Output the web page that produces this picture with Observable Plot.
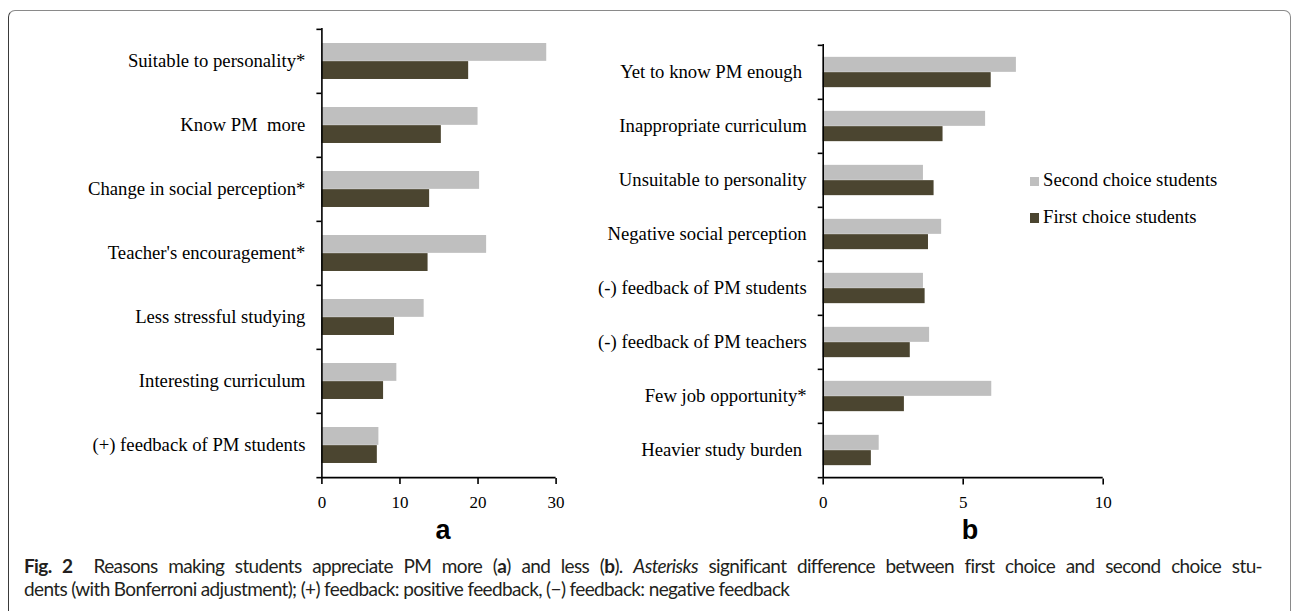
<!DOCTYPE html>
<html>
<head>
<meta charset="utf-8">
<script src="https://cdn.jsdelivr.net/npm/d3@7"></script>
<script src="https://cdn.jsdelivr.net/npm/@observablehq/plot@0.6"></script>
<style>
  html, body { margin: 0; padding: 0; background: #fff; }
  #root { position: relative; width: 1292px; height: 611px; overflow: hidden; background: #fff; }
  .frame { position: absolute; left: 8px; top: 10px; width: 1283px; height: 700px; box-sizing: border-box;
           border: 1.5px solid #8a8a8a; border-left-color: #3a3a3a; border-radius: 7px; }
  .panel { position: absolute; top: 0; }
  .plab { position: absolute; width: 40px; text-align: center; font-family: "Liberation Sans", Arial, sans-serif;
          font-weight: bold; font-size: 27px; line-height: 27px; top: 517px; color: #000; }
  .leg { position: absolute; font-family: "Liberation Serif", "Times New Roman", serif; font-size: 18.7px;
         line-height: 18.7px; color: #000; white-space: nowrap; }
  .sw { position: absolute; width: 9.3px; height: 9.3px; }
  .cap { position: absolute; left: 24px; font-family: Lato, "Open Sans", sans-serif; font-size: 19px; line-height: 23px;
         color: #231f20; white-space: nowrap; }
</style>
</head>
<body>
<div id="root">
  <div class="frame"></div>
  <div id="pa" class="panel" style="left:0px"></div>
  <div id="pb" class="panel" style="left:560px"></div>
  <div class="plab" style="left:423px">a</div>
  <div class="plab" style="left:950px">b</div>
  <div id="legend"></div>
  <div id="cap1" class="cap" style="top:554px"><b>Fig. 2</b>&nbsp; Reasons making students appreciate PM more (<b>a</b>) and less (<b>b</b>). <i>Asterisks</i> significant difference between first choice and second choice stu-</div>
  <div id="cap2" class="cap" style="top:577px">dents (with Bonferroni adjustment); (+) feedback: positive feedback, (−) feedback: negative feedback</div>
</div>
<script>
// ---- Data ----
const reasonsMore = ["Suitable to personality*", "Know PM\u00a0 more", "Change in social perception*", "Teacher's encouragement*", "Less stressful studying", "Interesting curriculum", "(+) feedback of PM students"];
const secondMore = [28.8, 20.0, 20.2, 21.1, 13.1, 9.6, 7.3];
const firstMore  = [18.8, 15.3, 13.8, 13.6, 9.3, 7.9, 7.1];
const ticksMore = [0, 10, 20, 30];

const reasonsLess = ["Yet to know PM enough\u00a0", "Inappropriate curriculum", "Unsuitable to personality", "Negative social perception", "(-) feedback of PM students", "(-) feedback of PM teachers", "Few job opportunity*", "Heavier study burden\u00a0"];
const secondLess = [6.9, 5.8, 3.58, 4.23, 3.58, 3.8, 6.02, 2.0];
const firstLess  = [6.0, 4.28, 3.96, 3.76, 3.64, 3.11, 2.9, 1.72];
const ticksLess = [0, 5, 10];

const seriesNames = ["Second choice students", "First choice students"];
const GRAY = "#bfbfbf", DARK = "#4b4530";

function panel({reasons, second, first, ticks, width, height, mt, mb, ml, mr}) {
  const rows = reasons.map((r, i) => ({reason: r, second: second[i], first: first[i]}));
  const bw = (height - mt - mb) / reasons.length;
  const xmax = ticks[ticks.length - 1];
  const last = reasons[reasons.length - 1];
  return Plot.plot({
    width, height, marginTop: mt, marginBottom: mb, marginLeft: ml, marginRight: mr,
    style: {background: "transparent", overflow: "visible", fontFamily: "'Liberation Serif', 'Times New Roman', serif", color: "#000"},
    x: {domain: [0, xmax], label: null},
    y: {domain: reasons, padding: 0, label: null},
    marks: [
      Plot.barX(rows, {y: "reason", x: "second", fill: GRAY, insetTop: bw * 0.218, insetBottom: bw * 0.5}),
      Plot.barX(rows, {y: "reason", x: "first", fill: DARK, insetTop: bw * 0.5, insetBottom: bw * 0.218}),
      Plot.ruleX([0], {stroke: "#000", strokeWidth: 1.6}),
      Plot.ruleY([last], {y: d => d, x1: 0, x2: xmax, dy: bw / 2, stroke: "#000", strokeWidth: 1.6}),
      Plot.axisX({ticks, tickSize: 6, tickPadding: 11, fontSize: 17, strokeWidth: 1.6, tickFormat: d => String(d), label: null}),
      Plot.axisY({tickSize: 0, tickPadding: 16.5, fontSize: 18.7, label: null}),
      Plot.axisY({tickSize: 5, tickFormat: () => "", dy: -bw / 2, strokeWidth: 1.6, label: null}),
      Plot.axisY({ticks: [last], tickSize: 5, tickFormat: () => "", dy: bw / 2, strokeWidth: 1.6, label: null})
    ]
  });
}

document.getElementById("pa").appendChild(panel({
  reasons: reasonsMore, second: secondMore, first: firstMore, ticks: ticksMore,
  width: 600, height: 520, mt: 28, mb: 42, ml: 321.4, mr: 600 - 555.6
}));
document.getElementById("pb").appendChild(panel({
  reasons: reasonsLess, second: secondLess, first: firstLess, ticks: ticksLess,
  width: 600, height: 520, mt: 44, mb: 41.5, ml: 822.7 - 560, mr: 600 - (1102.7 - 560)
}));

// ---- Legend ----
const legend = document.getElementById("legend");
const legendColors = [GRAY, DARK];
seriesNames.forEach((name, i) => {
  const top = [171, 207.6][i];
  const sq = document.createElement("div");
  sq.className = "sw";
  sq.style.left = "1030px";
  sq.style.top = (top + 5.7) + "px";
  sq.style.background = legendColors[i];
  legend.appendChild(sq);
  const t = document.createElement("div");
  t.className = "leg";
  t.style.left = "1043px";
  t.style.top = top + "px";
  t.textContent = name;
  legend.appendChild(t);
});

// ---- Fit caption: line 2 natural width, line 1 justified ----
const c1 = document.getElementById("cap1"), c2 = document.getElementById("cap2");
const w2 = c2.getBoundingClientRect().width;
const ls = (790 - 24 - w2) / c2.textContent.length;
c1.style.letterSpacing = ls + "px";
c2.style.letterSpacing = ls + "px";
const w1 = c1.getBoundingClientRect().width;
const spaces = (c1.textContent.match(/[ \u00a0]/g) || []).length;
c1.style.wordSpacing = ((1262 - 24 - w1) / spaces) + "px";
</script>
</body>
</html>
